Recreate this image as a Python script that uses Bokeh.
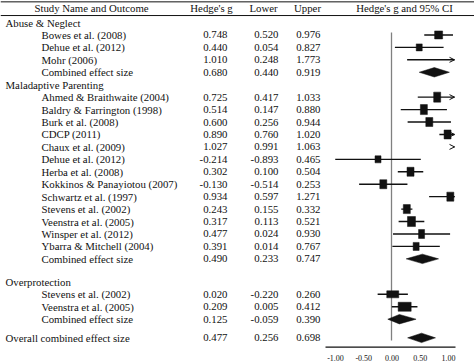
from bokeh.plotting import figure
from bokeh.models import Range1d, ColumnDataSource, Arrow, OpenHead
from bokeh.embed import file_html
from bokeh.resources import INLINE
from bokeh.core.properties import value

# ---------------- data ----------------
group_names = ["Abuse & Neglect", "Maladaptive Parenting", "Overprotection"]

abuse_studies = ["Bowes et al. (2008)", "Dehue et al. (2012)", "Mohr (2006)"]
abuse_g = [0.748, 0.440, 1.010]
abuse_lower = [0.520, 0.054, 0.248]
abuse_upper = [0.976, 0.827, 1.773]
abuse_combined = [0.680, 0.440, 0.919]  # g, lower, upper

mal_studies = ["Ahmed & Braithwaite (2004)", "Baldry & Farrington (1998)",
               "Burk et al. (2008)", "CDCP (2011)", "Chaux et al. (2009)",
               "Dehue et al. (2012)", "Herba et al. (2008)",
               "Kokkinos & Panayiotou (2007)", "Schwartz et al. (1997)",
               "Stevens et al. (2002)", "Veenstra et al. (2005)",
               "Winsper et al. (2012)", "Ybarra & Mitchell (2004)"]
mal_g = [0.725, 0.514, 0.600, 0.890, 1.027, -0.214, 0.302, -0.130, 0.934,
         0.243, 0.317, 0.477, 0.391]
mal_lower = [0.417, 0.147, 0.256, 0.760, 0.991, -0.893, 0.100, -0.514, 0.597,
             0.155, 0.113, 0.024, 0.014]
mal_upper = [1.033, 0.880, 0.944, 1.020, 1.063, 0.465, 0.504, 0.253, 1.271,
             0.332, 0.521, 0.930, 0.767]
mal_combined = [0.490, 0.233, 0.747]

over_studies = ["Stevens et al. (2002)", "Veenstra et al. (2005)"]
over_g = [0.020, 0.209]
over_lower = [-0.220, 0.005]
over_upper = [0.260, 0.412]
over_combined = [0.125, -0.059, 0.390]

overall_label = "Overall combined effect size"
overall_combined = [0.477, 0.256, 0.698]

axis_ticks = [-1.00, -0.50, 0.00, 0.50, 1.00]
col_headers = ["Study Name and Outcome", "Hedge's g", "Lower", "Upper",
               "Hedge's g and 95% CI"]

# ---------------- styles / layout ----------------
abuse_box = [(8, 8), (6, 7), (0, 0)]
mal_box = [(7, 10), (7, 10), (7, 9), (7, 9), (0, 0), (6, 7), (7, 9), (7, 9),
           (7, 9), (7, 9), (8, 10), (6, 9), (6, 8)]
over_box = [(12, 7), (13, 9)]

FONT = "Liberation Serif"
FS = "10.8px"
INK = "#111111"
W, H = 474, 364
ZERO_PX, PX_PER_UNIT = 391, 63.0          # forest scale
AX_ZERO_PX, AX_PX_PER_UNIT = 391.5, 56.5  # printed axis labels
XMAX = 1.0                                # clip for forest marks
ROW_PX, ROW0_PX = 12.44, 22.0

GROUP_X, NAME_X = 5, 41
G_RIGHT, LO_RIGHT, UP_RIGHT = 227, 278, 320
HEADER_X = [91, 211, 263, 307, 404]
AXIS_X0, AXIS_X1 = 325, 455

rows = []
y = 0.0
rows.append(("group", group_names[0], None, None, None, None, y))
for n, g, lo, hi, b in zip(abuse_studies, abuse_g, abuse_lower, abuse_upper, abuse_box):
    y += 1; rows.append(("study", n, g, lo, hi, b, y))
y += 1; rows.append(("comb", "Combined effect size", *abuse_combined, None, y))
y += 1; rows.append(("group", group_names[1], None, None, None, None, y))
for n, g, lo, hi, b in zip(mal_studies, mal_g, mal_lower, mal_upper, mal_box):
    y += 1; rows.append(("study", n, g, lo, hi, b, y))
y += 1; rows.append(("comb", "Combined effect size", *mal_combined, None, y))
y += 1.85; rows.append(("group", group_names[2], None, None, None, None, y))
for n, g, lo, hi, b in zip(over_studies, over_g, over_lower, over_upper, over_box):
    y += 1; rows.append(("study", n, g, lo, hi, b, y))
y += 1; rows.append(("comb", "Combined effect size", *over_combined, None, y))
y += 1.5; rows.append(("overall", overall_label, *overall_combined, None, y))
last_row = y

TOP_LINE_ROW, HEADER_ROW, HEADER_LINE_ROW = -1.66, -1.13, -0.56
AXIS_ROW = last_row + 0.75
TICK_ROW = last_row + 1.58

y_top = (0 - ROW0_PX) / ROW_PX
y_bot = (H - ROW0_PX) / ROW_PX

p = figure(width=W, height=H, output_backend="svg", toolbar_location=None,
           x_range=Range1d(0, W), y_range=Range1d(y_bot, y_top),
           x_axis_type=None, y_axis_type=None, min_border=0,
           outline_line_color=None, background_fill_color="white",
           border_fill_color="white")
p.xgrid.visible = False
p.ygrid.visible = False
p.extra_x_ranges = {
    "g": Range1d((0 - ZERO_PX) / PX_PER_UNIT, (W - ZERO_PX) / PX_PER_UNIT),
    "ax": Range1d((0 - AX_ZERO_PX) / AX_PX_PER_UNIT, (W - AX_ZERO_PX) / AX_PX_PER_UNIT),
}

# ---- header ----
p.segment(x0=[0, 0], x1=[W, W],
          y0=[TOP_LINE_ROW, HEADER_LINE_ROW], y1=[TOP_LINE_ROW, HEADER_LINE_ROW],
          line_color=INK, line_width=1)
p.text(x=HEADER_X, y=[HEADER_ROW] * len(col_headers), text=col_headers,
       text_font=value(FONT), text_font_size=FS, text_color=INK,
       text_align="center", text_baseline="middle")

# ---- table text ----
def txt(xs, ys, labels, align):
    p.text(x=xs, y=ys, text=labels, text_font=value(FONT), text_font_size=FS,
           text_color=INK, text_align=align, text_baseline="middle")

grp = [r for r in rows if r[0] in ("group", "overall")]
txt([GROUP_X] * len(grp), [r[6] for r in grp], [r[1] for r in grp], "left")
nm = [r for r in rows if r[0] in ("study", "comb")]
txt([NAME_X] * len(nm), [r[6] for r in nm], [r[1] for r in nm], "left")
num = [r for r in rows if r[0] in ("study", "comb", "overall")]
ny = [r[6] for r in num]
txt([G_RIGHT] * len(num), ny, [f"{r[2]:.3f}" for r in num], "right")
txt([LO_RIGHT] * len(num), ny, [f"{r[3]:.3f}" for r in num], "right")
txt([UP_RIGHT] * len(num), ny, [f"{r[4]:.3f}" for r in num], "right")

# ---- forest ----
first_study_row = min(r[6] for r in rows if r[0] == "study")
p.segment(x0=[0], x1=[0], y0=[first_study_row - 0.2], y1=[last_row + 0.22],
          x_range_name="g", line_color="#808080", line_width=1.3)

studies = [r for r in rows if r[0] == "study"]
ci = ColumnDataSource(dict(
    x0=[r[3] for r in studies],
    x1=[min(r[4], XMAX) for r in studies],
    y=[r[6] for r in studies]))
p.segment(x0="x0", x1="x1", y0="y", y1="y", source=ci, x_range_name="g",
          line_color=INK, line_width=1.4)

vis = [r for r in studies if r[2] <= XMAX]
p.rect(x=[r[2] for r in vis], y=[r[6] for r in vis],
       width=[r[5][0] for r in vis], height=[r[5][1] for r in vis],
       width_units="screen", height_units="screen", x_range_name="g",
       fill_color=INK, line_color=INK, line_width=0.5)

clipped = [r for r in studies if r[4] > XMAX]
arr = ColumnDataSource(dict(
    xs=[XMAX - 0.02 for r in clipped], xe=[XMAX for r in clipped],
    y=[r[6] for r in clipped]))
p.add_layout(Arrow(end=OpenHead(size=5, line_width=1, line_color=INK),
                   x_start="xs", x_end="xe", y_start="y", y_end="y",
                   source=arr, x_range_name="g", line_color=INK, line_width=1))

DH = 0.38
combs = [r for r in rows if r[0] in ("comb", "overall")]
p.patches(xs=[[r[3], r[2], r[4], r[2]] for r in combs],
          ys=[[r[6], r[6] - DH, r[6], r[6] + DH] for r in combs],
          x_range_name="g", fill_color=INK, line_color=INK, line_width=0.5)

# ---- bottom axis ----
p.segment(x0=[AXIS_X0], x1=[AXIS_X1], y0=[AXIS_ROW], y1=[AXIS_ROW],
          line_color=INK, line_width=1.2)
p.text(x=axis_ticks, y=[TICK_ROW] * len(axis_ticks),
       text=[f"{t:.2f}" for t in axis_ticks], x_range_name="ax",
       text_font=value(FONT), text_font_size="8px", text_color=INK,
       text_align="center", text_baseline="middle")

open("out.html", "w").write(file_html(p, INLINE))
